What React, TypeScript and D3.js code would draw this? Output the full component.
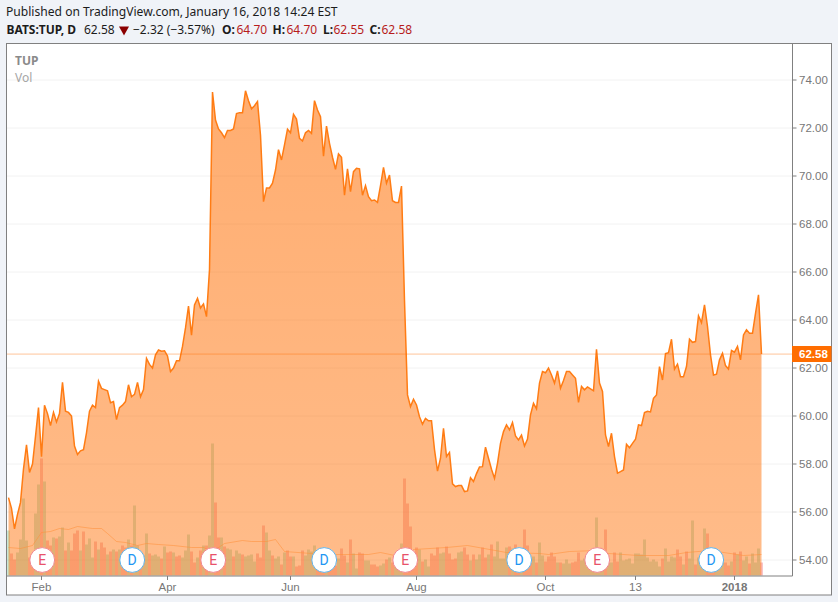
import React from "react";
import * as d3 from "d3";

// daily closes, BATS:TUP, Jan 2017 - Jan 2018
const closes = [
  56.6, 56.15, 55.3, 55.9, 56.4, 57.8, 58.8, 57.65, 58.0, 59.15,
  60.35, 58.3, 60.45, 60.1, 59.6, 60.15, 59.75, 60.1, 61.4, 60.2,
  60.15, 60.0, 58.75, 58.4, 58.55, 58.6, 59.3, 60.2, 60.45, 60.35,
  61.45, 61.15, 61.1, 61.05, 60.55, 60.6, 59.85, 60.35, 60.45, 60.6,
  61.3, 60.8, 60.9, 61.4, 60.8, 61.1, 62.4, 62.15, 62.0, 62.55,
  62.75, 62.7, 62.72, 62.5, 61.85, 62.0, 62.3, 62.3, 62.9, 63.67,
  64.58, 63.37, 64.63, 64.9, 64.5, 64.67, 64.14, 66.1, 73.5, 72.33,
  71.96, 71.8, 71.6, 71.9, 71.9, 71.96, 72.6, 72.64, 72.64, 73.55,
  73.14, 72.8, 72.93, 73.1, 71.7, 68.93, 69.5, 69.5, 69.7, 70.25,
  71.1, 70.67, 71.3, 71.95, 71.8, 72.57, 72.37, 71.57, 71.46, 71.8,
  71.9, 71.78, 73.14, 72.75, 72.47, 70.83, 72.08, 71.36, 70.78, 70.28,
  70.92, 70.78, 69.2, 70.3, 69.35, 70.18, 70.32, 70.3, 69.2, 69.6,
  69.14, 68.97, 69.0, 68.9, 69.6, 70.36, 69.7, 70.04, 68.97, 68.9,
  68.9, 69.58, 64.8, 60.88, 60.39, 60.7, 60.46, 59.97, 59.66, 59.9,
  59.8, 59.8, 58.6, 57.7, 58.24, 59.49, 58.31, 58.48, 57.17, 57.06,
  57.1, 57.1, 56.85, 56.88, 57.43, 57.27, 57.6, 57.88, 57.89, 58.7,
  58.24, 57.78, 57.4, 58.03, 58.86, 59.35, 59.63, 59.42, 59.73, 59.17,
  59.0, 59.2, 58.75, 59.04, 60.05, 60.53, 60.3, 61.37, 61.85, 61.8,
  62.0, 61.71, 61.37, 61.88, 61.16, 61.48, 61.85, 61.85, 61.71, 61.57,
  60.57, 61.23, 61.09, 61.21, 61.13, 61.05, 62.78, 61.37, 61.02, 59.21,
  58.73, 59.28, 58.31, 57.62, 57.68, 57.75, 58.82, 58.68, 58.86, 59.03,
  59.63, 59.6, 60.14, 60.2, 60.17, 60.74, 60.88, 62.06, 61.5, 62.6,
  62.64, 63.2, 61.95, 62.16, 61.64, 61.64, 62.06, 63.2, 63.07, 63.1,
  64.17, 63.89, 64.63, 63.73, 62.55, 61.71, 61.74, 62.34, 62.61, 62.1,
  61.96, 62.73, 62.66, 62.9, 62.34, 63.38, 63.59, 63.45, 63.45, 64.28,
  65.05, 62.58,
];

// volume, tens of thousands of shares
const volumes = [
  45, 22, 16, 23, 36, 77, 35, 18, 22, 62,
  91, 117, 94, 35, 30, 38, 37, 39, 48, 25,
  33, 25, 42, 45, 25, 44, 31, 37, 18, 34,
  26, 33, 28, 21, 24, 26, 24, 26, 30, 28,
  36, 30, 70, 30, 22, 20, 42, 22, 20, 21,
  19, 17, 29, 23, 24, 23, 19, 20, 18, 25,
  41, 24, 13, 18, 25, 30, 30, 40, 132, 73,
  38, 38, 29, 27, 26, 19, 25, 22, 21, 19,
  20, 21, 14, 22, 18, 50, 43, 25, 20, 17,
  19, 11, 23, 25, 19, 19, 9, 10, 25, 20,
  26, 24, 30, 13, 22, 12, 12, 12, 13, 10,
  17, 27, 20, 13, 36, 22, 7, 23, 22, 15,
  15, 11, 11, 9, 10, 12, 16, 18, 13, 18,
  15, 32, 97, 72, 49, 20, 28, 26, 14, 16,
  9, 22, 20, 28, 22, 23, 29, 22, 16, 17,
  23, 24, 28, 21, 15, 21, 16, 21, 28, 18,
  21, 31, 19, 34, 17, 17, 28, 29, 27, 31,
  22, 15, 46, 30, 13, 19, 13, 33, 20, 14,
  19, 23, 19, 13, 13, 12, 16, 12, 13, 14,
  23, 15, 17, 13, 13, 15, 58, 13, 12, 46,
  13, 13, 23, 14, 23, 15, 16, 17, 12, 22,
  22, 21, 36, 18, 14, 16, 14, 9, 17, 27,
  14, 19, 18, 26, 19, 11, 24, 17, 55, 11,
  18, 16, 47, 42, 18, 19, 17, 17, 17, 13,
  10, 14, 23, 21, 24, 15, 19, 12, 22, 13,
  27, 13,
];

// 1 = up day, 0 = down day
const volumeUp = [
  1, 0, 0, 1, 1, 1, 1, 0, 0, 1,
  1, 0, 1, 0, 0, 1, 0, 1, 1, 0,
  1, 0, 0, 0, 1, 0, 1, 1, 1, 0,
  1, 0, 0, 1, 0, 1, 0, 1, 0, 0,
  1, 0, 1, 1, 0, 1, 1, 0, 1, 1,
  1, 0, 1, 0, 0, 1, 0, 0, 1, 1,
  1, 0, 0, 1, 0, 1, 0, 1, 1, 0,
  0, 1, 0, 1, 1, 0, 1, 1, 0, 1,
  1, 1, 1, 0, 0, 0, 1, 1, 0, 1,
  1, 0, 1, 0, 0, 1, 0, 0, 0, 1,
  1, 1, 1, 0, 0, 0, 1, 0, 0, 0,
  1, 0, 0, 1, 0, 1, 1, 0, 0, 1,
  1, 0, 0, 0, 1, 1, 0, 1, 0, 1,
  1, 1, 0, 0, 0, 0, 0, 1, 0, 1,
  1, 0, 0, 0, 1, 1, 0, 0, 0, 0,
  1, 1, 0, 0, 1, 0, 1, 1, 0, 0,
  1, 0, 1, 1, 1, 1, 1, 0, 1, 0,
  0, 1, 0, 0, 0, 1, 0, 1, 1, 0,
  0, 0, 0, 1, 0, 1, 1, 1, 0, 0,
  0, 1, 1, 1, 1, 1, 1, 1, 1, 0,
  1, 1, 0, 0, 1, 1, 1, 1, 1, 1,
  1, 1, 1, 1, 1, 1, 1, 1, 0, 1,
  1, 1, 1, 0, 0, 1, 0, 1, 1, 0,
  1, 1, 1, 0, 0, 0, 1, 1, 1, 0,
  0, 1, 0, 1, 0, 1, 1, 0, 1, 1,
  1, 0,
];

// volume moving average, read at these bars
const volMaBars = [
  0, 4, 8, 11, 14, 17, 20, 23, 28, 31, 33, 36, 39, 43, 46, 50, 55, 61, 65, 68,
  72, 78, 81, 86, 89, 92, 101, 109, 120, 124, 132, 135, 146, 153, 166, 177, 180, 187, 196,
  200, 210, 220, 226, 234, 245, 251,
];
const volMa = [
  28, 27, 30, 43, 44, 47, 46, 49, 47, 47, 42, 34, 33, 30, 32, 31, 30, 28, 28, 24,
  32, 35, 34, 34, 36, 24, 22, 21, 21, 23, 18, 26, 28, 30, 23, 22, 21, 24, 25,
  22, 20, 20, 23, 25, 20, 21,
];

const priceTicks = d3.range(54, 75, 2);
const timeTickBars = [11, 53, 94, 136, 179, 209, 242];
const timeTickLabels = ["Feb", "Apr", "Jun", "Aug", "Oct", "13", "2018"];

const eventBars = [11, 41, 68, 105, 132, 170, 196, 234];
const eventKinds = ["E", "D", "E", "D", "E", "D", "E", "D"];

const lastPrice = 62.58;
const font = "'Liberation Sans', Arial, sans-serif";
const headFont = "'Noto Sans', sans-serif";

const x = d3.scaleLinear().domain([0, 251]).range([8.5, 761.5]);
const y = d3.scaleLinear().domain([54, 74]).range([560, 80]);
const yVol = d3.scaleLinear().domain([0, 132]).range([575.5, 443.5]);

const area = d3
  .area<number>()
  .x((_, i) => x(i))
  .y0(575.5)
  .y1((d) => y(d));
const line = d3
  .line<number>()
  .x((_, i) => x(i))
  .y((d) => y(d));
const maLine = d3
  .line<number>()
  .x((_, i) => x(volMaBars[i]))
  .y((d) => yVol(d));

export default function App() {
  return (
    <svg
      width={838}
      height={602}
      style={{ position: "absolute", left: 0, top: 0, background: "#f0f3f8" }}
    >
      <defs>
        <linearGradient id="fill" gradientUnits="userSpaceOnUse" x1={0} y1={y(73.55)} x2={0} y2={575.5}>
          <stop offset="0" stopColor="#ff6d00" stopOpacity={0.56} />
          <stop offset="1" stopColor="#ff6d00" stopOpacity={0.46} />
        </linearGradient>
      </defs>

      <text x={6} y={15.5} fontFamily={headFont} fontSize={12.1} fill="#1c1c1c">
        Published on TradingView.com, January 16, 2018 14:24 EST
      </text>
      <g fontFamily={headFont} fontSize={12} fill="#1c1c1c">
        <text x={6.5} y={34} fontWeight="bold">BATS:TUP, D</text>
        <text x={84} y={34}>62.58</text>
        <path d="M119,26.5 L129,26.5 L124,35.5 Z" fill="#8b0000" />
        <text x={133} y={34}>−2.32 (−3.57%)</text>
        <text x={222} y={34} fontWeight="bold">O:</text>
        <text x={236.5} y={34} fill="#b71c1c">64.70</text>
        <text x={272.5} y={34} fontWeight="bold">H:</text>
        <text x={286.5} y={34} fill="#b71c1c">64.70</text>
        <text x={323} y={34} fontWeight="bold">L:</text>
        <text x={333.5} y={34} fill="#b71c1c">62.55</text>
        <text x={369.5} y={34} fontWeight="bold">C:</text>
        <text x={381.5} y={34} fill="#b71c1c">62.58</text>
      </g>

      <rect x={6.5} y={43.5} width={825} height={551.5} fill="#fff" stroke="#808080" strokeWidth={1} />

      {priceTicks.map((t) => (
        <line key={t} x1={7} x2={792} y1={y(t)} y2={y(t)} stroke="#f2f2f2" />
      ))}

      {volumes.map((v, i) => (
        <rect
          key={i}
          x={x(i) - 1.5}
          y={yVol(v)}
          width={3}
          height={575.5 - yVol(v)}
          fill={volumeUp[i] ? "#53b987" : "#eb4d5c"}
          opacity={0.33}
        />
      ))}

      <path d={area(closes) ?? ""} fill="url(#fill)" />
      <path d={maLine(volMa) ?? ""} fill="none" stroke="#ff8f3a" strokeOpacity={0.55} strokeWidth={1} />
      <path d={line(closes) ?? ""} fill="none" stroke="#ff7c14" strokeWidth={1.5} />
      <line x1={7} x2={792} y1={y(lastPrice)} y2={y(lastPrice)} stroke="#ff6d00" strokeOpacity={0.4} />

      <line x1={6.5} x2={792.5} y1={576} y2={576} stroke="#808080" />
      <line x1={792.5} x2={792.5} y1={43.5} y2={576} stroke="#808080" />

      {priceTicks.map((t) => (
        <g key={t}>
          <line x1={792.5} x2={796.5} y1={y(t)} y2={y(t)} stroke="#808080" />
          <text x={799} y={y(t) + 4} fontFamily={font} fontSize={11.5} fill="#777">
            {t.toFixed(2)}
          </text>
        </g>
      ))}

      <rect x={792} y={346} width={39.5} height={16} fill="#ff6d00" />
      <text x={799} y={358} fontFamily={font} fontSize={11.5} fontWeight="bold" fill="#fff">
        {lastPrice.toFixed(2)}
      </text>

      {timeTickBars.map((b, i) => (
        <g key={b}>
          <line x1={x(b)} x2={x(b)} y1={576} y2={580} stroke="#808080" />
          <text
            x={x(b)}
            y={591}
            textAnchor="middle"
            fontFamily={font}
            fontSize={11.5}
            fontWeight={timeTickLabels[i] === "2018" ? "bold" : "normal"}
            fill="#777"
          >
            {timeTickLabels[i]}
          </text>
        </g>
      ))}

      {eventBars.map((b, i) => {
        const isE = eventKinds[i] === "E";
        return (
          <g key={b}>
            <circle cx={x(b) + 0.7} cy={560} r={12.4} fill="#fff" stroke={isE ? "#f0868f" : "#62b3ea"} strokeWidth={1} />
            <text
              x={x(b) + 0.7}
              y={565}
              textAnchor="middle"
              fontFamily="Roboto, sans-serif"
              fontSize={14}
              fill={isE ? "#e8526a" : "#2196f3"}
            >
              {eventKinds[i]}
            </text>
          </g>
        );
      })}

      <text x={15} y={64.5} fontFamily={headFont} fontSize={12} fontWeight="bold" fill="#8a8a8a">TUP</text>
      <text x={15} y={81.5} fontFamily={headFont} fontSize={12} fill="#a6a6a6">Vol</text>
    </svg>
  );
}
